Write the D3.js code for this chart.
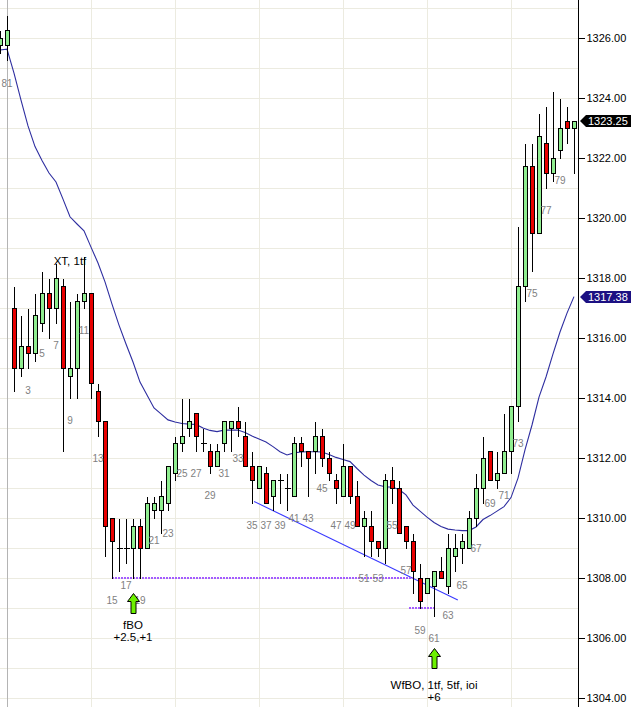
<!DOCTYPE html>
<html>
<head>
<meta charset="utf-8">
<script src="https://cdn.jsdelivr.net/npm/d3@7"></script>
<style>
  body { margin: 0; background: #fff; }
  svg { display: block; font-family: "Liberation Sans", Arial, sans-serif; }
</style>
</head>
<body>
<div id="chart"></div>
<script>
// session bar numbers: last two bars of the previous session, then today 1..81
const barNums = [80, 81].concat(d3.range(1, 82));

const opens = [1325.75, 1325.75,
  1317, 1315, 1315.75, 1315.5, 1316.5, 1317.5, 1317, 1317.75, 1314.75, 1315,
  1317.25, 1317.5, 1314.25, 1313.25, 1310, 1309, 1309, 1309, 1309.75, 1309,
  1310.25, 1310.25, 1310.5, 1311.5, 1312.5, 1313, 1313.5, 1312.5, 1312.25, 1311.75,
  1312.5, 1313, 1313.25, 1312.75, 1311.75, 1311, 1311.5, 1310.75, 1311.25, 1311,
  1310.75, 1312.5, 1312.25, 1312.25, 1312.75, 1312, 1311.25, 1310.75, 1311.75, 1310.75,
  1309.75, 1309.75, 1309.25, 1309, 1311.25, 1311, 1309.75, 1309.25, 1308, 1307.5,
  1307.75, 1308.25, 1307.75, 1308.75, 1309, 1309, 1310, 1311, 1312.25, 1311.25,
  1311.5, 1312.25, 1313.75, 1317.75, 1321.75, 1319.5, 1322.5, 1321.5, 1322.25, 1323.25,
  1323];
const highs = [1326.25, 1326.75,
  1317.75, 1316.75, 1317, 1317.5, 1318.25, 1318, 1318.5, 1318, 1317.25, 1317.5,
  1318.75, 1317.5, 1314.5, 1313.25, 1310, 1310, 1310, 1310, 1310, 1310.75,
  1310.75, 1311.25, 1311.75, 1312.75, 1314, 1314, 1313.5, 1313, 1312.5, 1312.5,
  1313.25, 1313.25, 1313.75, 1313.25, 1312.25, 1311.75, 1311.75, 1311.25, 1311.5, 1311.5,
  1312.75, 1312.75, 1312.25, 1313.25, 1313, 1312.25, 1311.5, 1312.5, 1311.75, 1311.25,
  1310.25, 1310.25, 1309.25, 1311.5, 1311.75, 1311.25, 1309.75, 1309.5, 1308.5, 1308,
  1308.25, 1308.75, 1309.5, 1309.5, 1309.5, 1310.25, 1311.5, 1312.75, 1312.25, 1312.25,
  1313.5, 1313.75, 1319.75, 1322.5, 1322.5, 1323.5, 1323.75, 1324.25, 1324, 1323.75,
  1323.25];
const lows = [1325.5, 1325.25,
  1314.25, 1314.75, 1315, 1315.25, 1316.25, 1316, 1316.5, 1312.25, 1314, 1314,
  1317, 1314, 1312.75, 1308.75, 1308, 1308.25, 1308.5, 1308, 1308, 1309,
  1310, 1309.5, 1310.25, 1311.25, 1312.25, 1312.75, 1312.25, 1312.25, 1311.5, 1311.75,
  1312.25, 1312.25, 1312.75, 1311.75, 1310.5, 1311, 1310.5, 1310.25, 1310.5, 1310.25,
  1310.75, 1311.75, 1310.75, 1311.5, 1311.75, 1311.25, 1310.5, 1310.75, 1310.5, 1309.75,
  1308.75, 1308.75, 1308.75, 1308.5, 1310.5, 1309.5, 1309, 1307.5, 1307, 1307.5,
  1306.75, 1308, 1307.5, 1308.25, 1308.5, 1309, 1309.75, 1310.5, 1311.25, 1311,
  1311.5, 1311.5, 1313.25, 1317.25, 1318.25, 1319.5, 1321, 1321.25, 1322, 1322.5,
  1321.5];
const closes = [1326, 1326.25,
  1315, 1315.75, 1315.5, 1316.75, 1317.5, 1317, 1318, 1315, 1315, 1317.25,
  1317.5, 1314.5, 1313.25, 1309.75, 1309.25, 1309, 1309, 1309.75, 1309, 1310.5,
  1310.5, 1310.75, 1311.75, 1312.5, 1312.75, 1313.25, 1312.75, 1312.5, 1311.75, 1312.25,
  1313.25, 1313.25, 1313, 1311.75, 1311.25, 1311.75, 1310.5, 1311.25, 1311.25, 1311,
  1312.5, 1312.25, 1312, 1312.75, 1312, 1311.5, 1311, 1311.75, 1310.75, 1309.75,
  1310, 1309.25, 1309, 1311.25, 1311, 1309.5, 1309.25, 1308.25, 1307.25, 1308,
  1308.25, 1308, 1309, 1309, 1309.25, 1310, 1311, 1312, 1311.25, 1311.5,
  1312.25, 1313.75, 1317.75, 1321.75, 1319.5, 1322.75, 1321.5, 1322, 1323, 1323,
  1323.25];

// moving average, one value per bar
const emaValues = [1325.60, 1325.63,
  1324.83, 1323.93, 1323.07, 1322.38, 1321.92, 1321.50, 1321.20, 1320.63, 1320.04, 1319.80,
  1319.57, 1319.03, 1318.50, 1317.87, 1317.13, 1316.43, 1315.80, 1315.20, 1314.53, 1314.10,
  1313.67, 1313.47, 1313.27, 1313.20, 1313.15, 1313.13, 1313.12, 1313.00, 1312.92, 1312.88,
  1312.93, 1312.93, 1312.93, 1312.85, 1312.73, 1312.63, 1312.53, 1312.38, 1312.21, 1312.10,
  1312.17, 1312.20, 1312.21, 1312.21, 1312.20, 1312.12, 1312.02, 1311.95, 1311.88, 1311.65,
  1311.43, 1311.25, 1311.10, 1311.04, 1311.03, 1310.95, 1310.77, 1310.43, 1310.23, 1310.03,
  1309.85, 1309.72, 1309.63, 1309.60, 1309.58, 1309.58, 1309.70, 1309.95, 1310.08, 1310.23,
  1310.38, 1310.68, 1311.33, 1312.27, 1313.10, 1314.03, 1314.70, 1315.47, 1316.20, 1316.83,
  1317.38];

const priceTicks = [1304, 1306, 1308, 1310, 1312, 1314, 1316, 1318, 1320, 1322, 1324, 1326];
const gridPrices = d3.range(1304, 1328);
const hourSlots = [0, 12, 24, 36, 48, 60, 72];
const sessionBreak = 0;

// trendline and dotted levels: [slot, price]
const trendline = [[35.3, 1310.55], [64.4, 1307.27]];
const dottedLevels = [
  { from: 15, to: 58.0, price: 1308 },
  { from: 57.4, to: 61.1, price: 1307 },
];
const annotations = [
  { slot: 18, tip: 1307.5, lines: ['fBO', '+2.5,+1'], gap: 12 },
  { slot: 61, tip: 1305.65, lines: ['WfBO, 1tf, 5tf, ioi', '+6'], gap: 16 },
];
const topNote = { slot: 9, price: 1318.45, text: 'XT, 1tf' };
const lastPrice = 1323.25;
const lastEma = 1317.38;

const width = 632, height = 707, axisX = 578;

const x = d3.scaleLinear().domain([0, 81]).range([7, 574]);
const y = d3.scaleLinear().domain([1304, 1326]).range([698, 38]);
const px = (v) => Math.round(x(v)) + 0.5;
const py = (v) => Math.round(y(v)) + 0.5;

const bars = barNums.map((num, i) => ({
  num, slot: i - 1, o: opens[i], h: highs[i], l: lows[i], c: closes[i], ema: emaValues[i],
}));
const lastSlot = bars[bars.length - 1].slot;

const svg = d3.select('#chart').append('svg')
  .attr('width', width)
  .attr('height', height);

svg.append('rect').attr('width', width).attr('height', height).attr('fill', '#fff');

// grid
const grid = svg.append('g').attr('shape-rendering', 'crispEdges');
grid.selectAll('.hg').data(gridPrices).enter().append('line')
  .attr('x1', 0).attr('x2', axisX)
  .attr('y1', (d) => py(d)).attr('y2', (d) => py(d))
  .attr('stroke', '#ecebe0');
grid.selectAll('.vg').data(hourSlots).enter().append('line')
  .attr('x1', (d) => px(d)).attr('x2', (d) => px(d))
  .attr('y1', 0).attr('y2', height)
  .attr('stroke', (d) => (d === sessionBreak ? '#b4b4b4' : '#ecebe0'));

// moving average
svg.append('path')
  .datum(bars)
  .attr('fill', 'none')
  .attr('stroke', '#2e2ea0')
  .attr('stroke-width', 1.1)
  .attr('d', d3.line().x((d) => x(d.slot)).y((d) => y(d.ema)));

// trendline
svg.append('line')
  .attr('x1', x(trendline[0][0])).attr('y1', y(trendline[0][1]))
  .attr('x2', x(trendline[1][0])).attr('y2', y(trendline[1][1]))
  .attr('stroke', '#3a3aff')
  .attr('stroke-width', 1.1);

// dotted levels
svg.selectAll('.lvl').data(dottedLevels).enter().append('line')
  .attr('x1', (d) => x(d.from)).attr('x2', (d) => x(d.to))
  .attr('y1', (d) => Math.round(y(d.price))).attr('y2', (d) => Math.round(y(d.price)))
  .attr('stroke', '#a35cff')
  .attr('stroke-width', 2)
  .attr('stroke-dasharray', '2,1')
  .attr('shape-rendering', 'crispEdges');

// candles
const candles = svg.append('g').attr('shape-rendering', 'crispEdges');
const cg = candles.selectAll('g').data(bars).enter().append('g');
cg.append('line')
  .attr('x1', (d) => px(d.slot)).attr('x2', (d) => px(d.slot))
  .attr('y1', (d) => py(d.h)).attr('y2', (d) => py(d.l))
  .attr('stroke', '#000');
cg.filter((d) => d.o !== d.c).append('rect')
  .attr('x', (d) => px(d.slot) - 2)
  .attr('width', 4)
  .attr('y', (d) => py(Math.max(d.o, d.c)))
  .attr('height', (d) => py(Math.min(d.o, d.c)) - py(Math.max(d.o, d.c)))
  .attr('fill', (d) => (d.c > d.o ? '#90ee90' : '#e80000'))
  .attr('stroke', '#000');
cg.filter((d) => d.o === d.c).append('line')
  .attr('x1', (d) => px(d.slot) - 2.5).attr('x2', (d) => px(d.slot) + 3)
  .attr('y1', (d) => py(d.o)).attr('y2', (d) => py(d.o))
  .attr('stroke', '#000');

// bar numbers under odd bars (not the first bar, not the bar still forming)
svg.selectAll('.num')
  .data(bars.filter((d) => d.num % 2 === 1 && d.num > 1 && d.slot !== lastSlot))
  .enter()
  .append('text')
  .attr('x', (d) => x(d.slot))
  .attr('y', (d) => y(d.l) + 26)
  .attr('text-anchor', 'middle')
  .attr('font-size', 10)
  .attr('fill', '#7f7f7f')
  .text((d) => d.num);

svg.append('text')
  .attr('x', x(topNote.slot))
  .attr('y', y(topNote.price))
  .attr('text-anchor', 'middle')
  .attr('font-size', 11.5)
  .text(topNote.text);

// annotation arrows
const ann = svg.selectAll('.ann').data(annotations).enter().append('g');
ann.append('path')
  .attr('d', (d) => {
    const cx = px(d.slot), t = Math.round(y(d.tip)) + 0.5;
    return `M${cx},${t}L${cx + 6},${t + 8}L${cx + 2.5},${t + 8}L${cx + 2.5},${t + 20}`
      + `L${cx - 2.5},${t + 20}L${cx - 2.5},${t + 8}L${cx - 6},${t + 8}Z`;
  })
  .attr('fill', '#6cf000')
  .attr('stroke', '#000');
ann.each(function (d) {
  const g = d3.select(this);
  const base = y(d.tip) + 20 + d.gap + 4;
  d.lines.forEach((line, i) => {
    g.append('text')
      .attr('x', x(d.slot))
      .attr('y', base + i * 12)
      .attr('text-anchor', 'middle')
      .attr('font-size', 11.5)
      .text(line);
  });
});

// right price axis
svg.append('rect').attr('x', axisX).attr('y', 0).attr('width', width - axisX).attr('height', height)
  .attr('fill', '#fff');
const axisG = svg.append('g').attr('transform', `translate(${axisX + 0.5},0)`);
axisG.call(d3.axisRight(y).tickValues(priceTicks).tickSize(6).tickPadding(2)
  .tickFormat(d3.format('.2f')));
axisG.select('.domain').attr('d', `M0,0V${height}`).attr('stroke', '#000');
axisG.selectAll('.tick line').attr('stroke', '#000').attr('shape-rendering', 'crispEdges');
axisG.selectAll('.tick text')
  .attr('font-family', '"Liberation Sans", Arial, sans-serif')
  .attr('font-size', 11)
  .attr('fill', '#000');

// price tags
const tags = [
  { price: lastPrice, fill: '#000' },
  { price: lastEma, fill: '#1c1082' },
];
const tg = svg.selectAll('.tag').data(tags).enter().append('g');
tg.append('path')
  .attr('d', (d) => {
    const c = Math.round(y(d.price));
    return `M${axisX + 2},${c}L${axisX + 8},${c - 6}L${width - 1},${c - 6}L${width - 1},${c + 6}L${axisX + 8},${c + 6}Z`;
  })
  .attr('fill', (d) => d.fill);
tg.append('text')
  .attr('x', axisX + 10)
  .attr('y', (d) => Math.round(y(d.price)) + 4)
  .attr('font-size', 11)
  .attr('fill', '#fff')
  .text((d) => d3.format('.2f')(d.price));
</script>
</body>
</html>
